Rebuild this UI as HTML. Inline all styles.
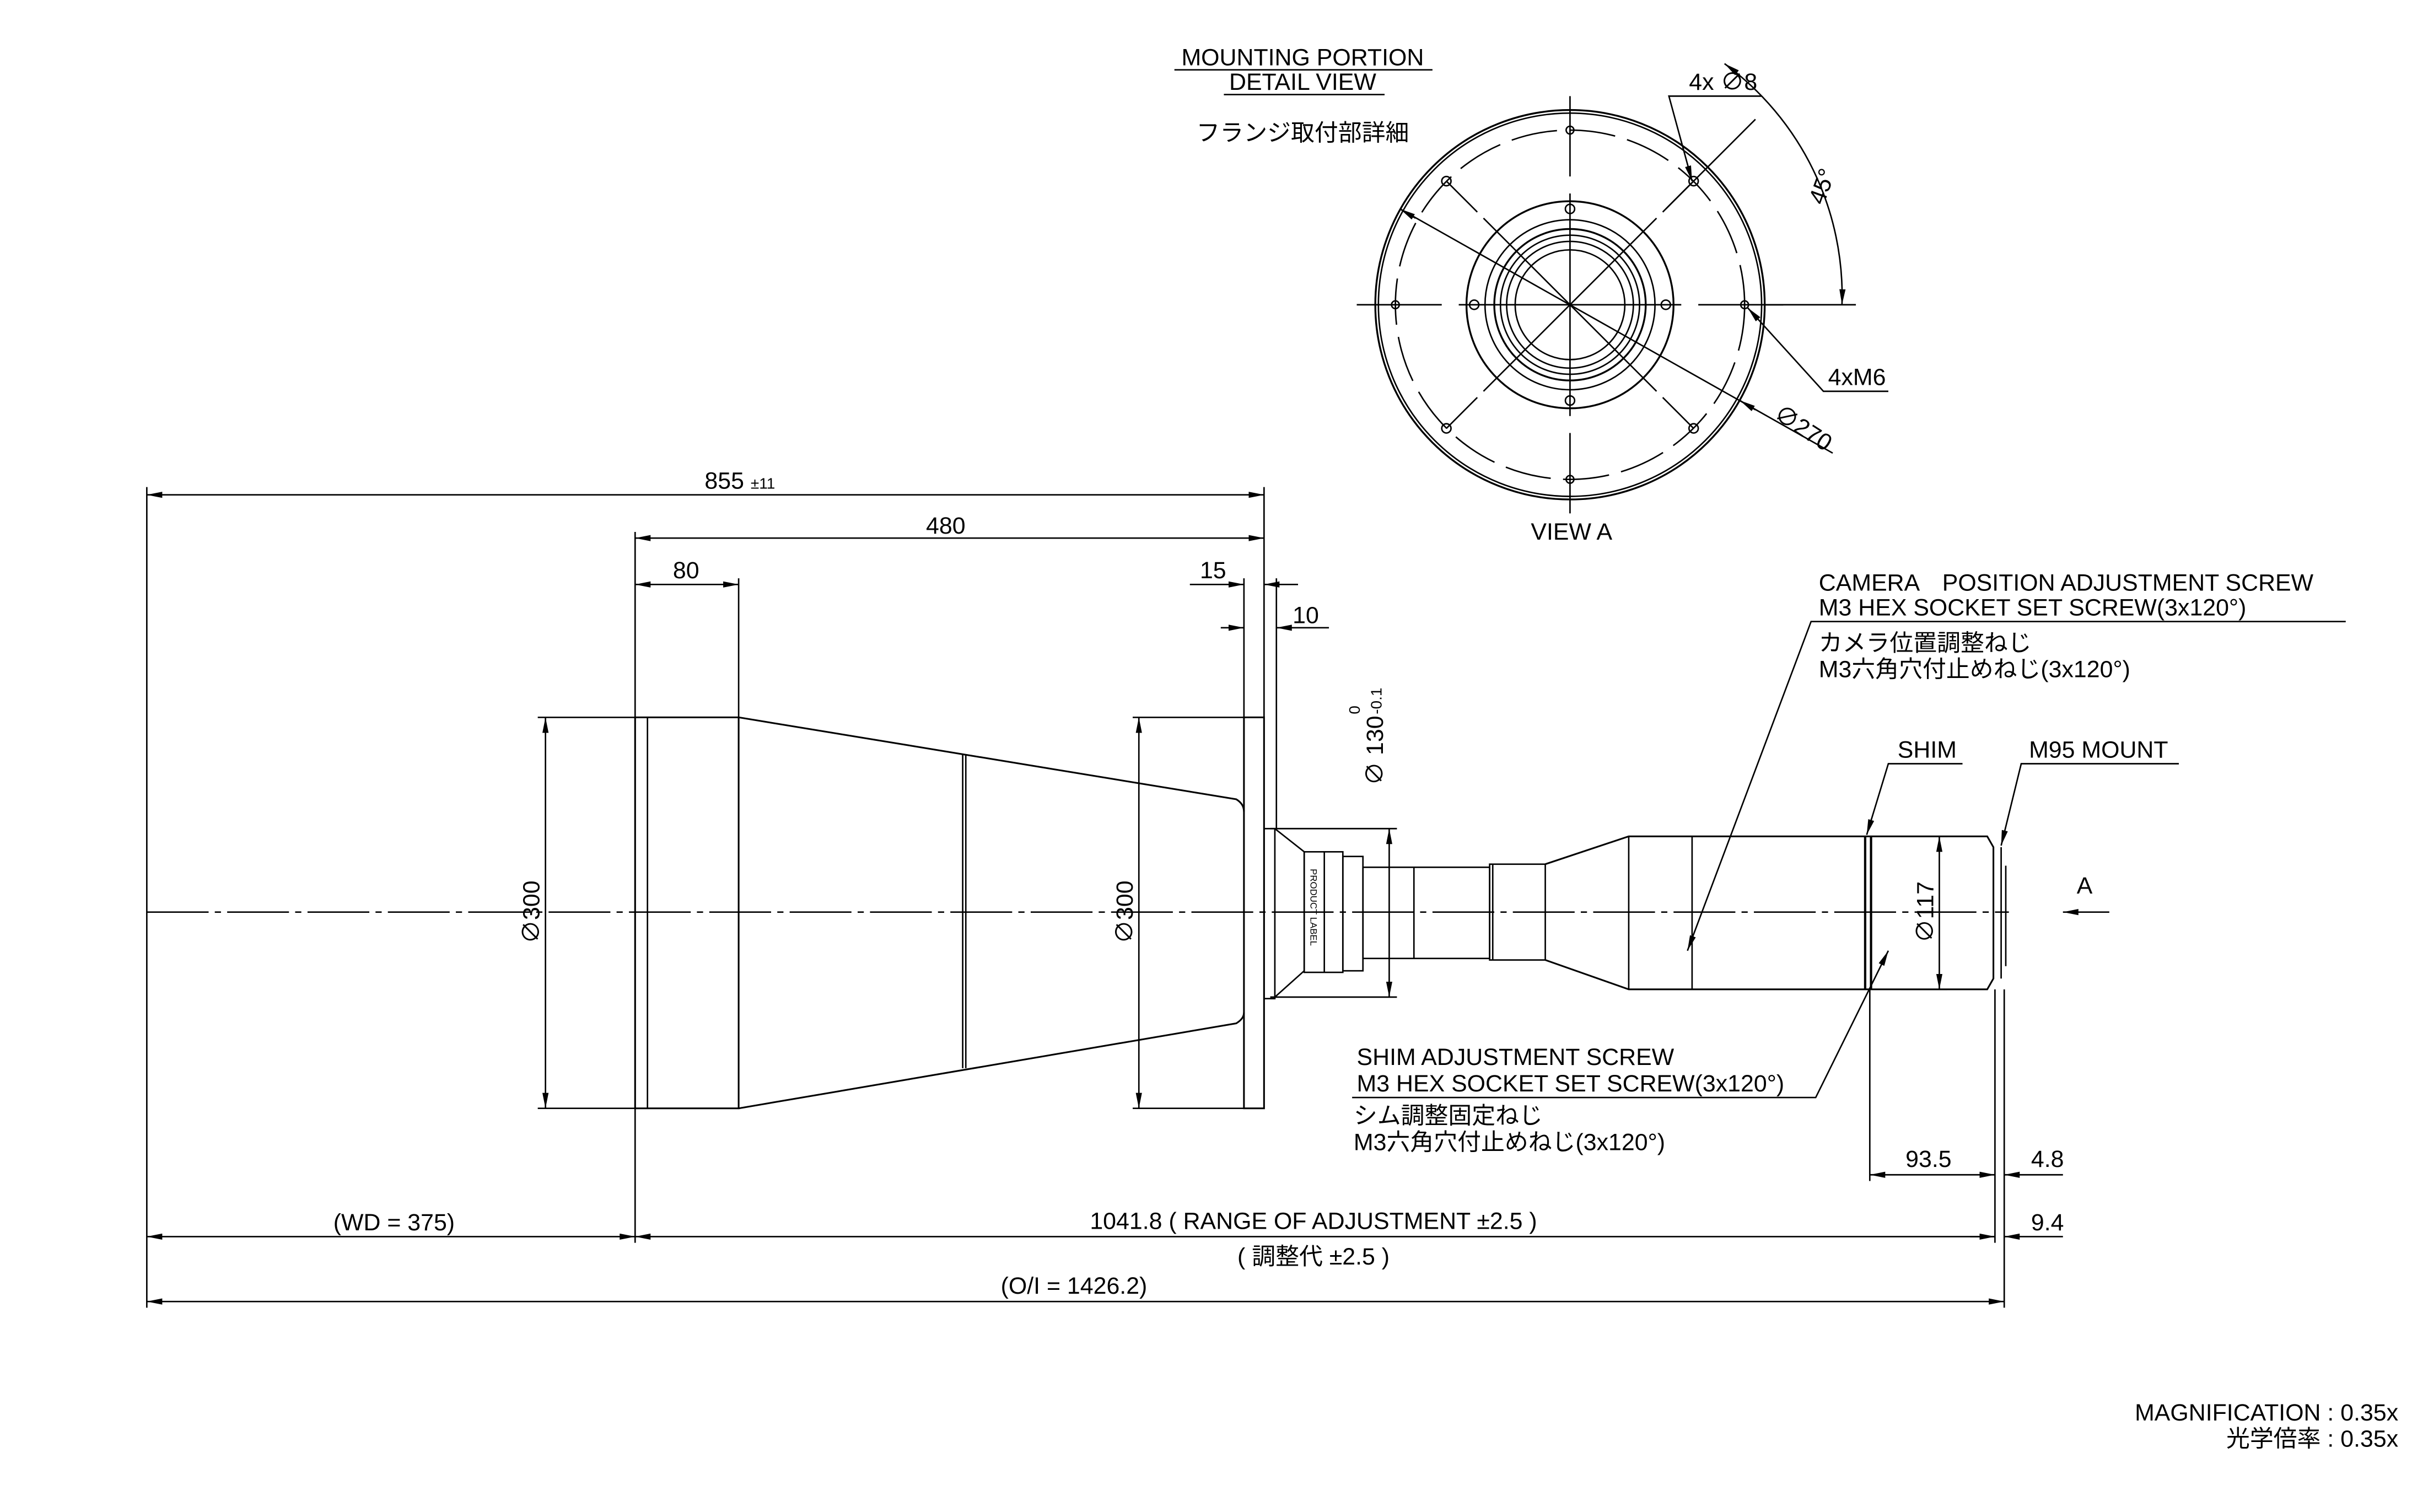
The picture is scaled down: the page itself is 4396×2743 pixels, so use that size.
<!DOCTYPE html>
<html><head><meta charset="utf-8"><style>
html,body{margin:0;padding:0;background:#fff}
svg{display:block}
text{font-family:"Liberation Sans","Noto Sans CJK JP",sans-serif;fill:#000}
</style></head><body>
<svg width="4396" height="2743" viewBox="0 0 1568 978" xmlns="http://www.w3.org/2000/svg">
<defs>
<marker id="a" viewBox="0 0 10 4" refX="10" refY="2" markerWidth="10" markerHeight="4" orient="auto-start-reverse" markerUnits="userSpaceOnUse"><path d="M0,0 L10,2 L0,4 z" fill="#000"/></marker>
</defs>
<rect width="1568" height="978" fill="#fff"/>
<g stroke="#000" fill="none" stroke-width="0.95">
<line x1="95" y1="590" x2="1300" y2="590" stroke-dasharray="40,4,4,4"/>
<rect x="411" y="464" width="67" height="253" stroke-width="1.1"/>
<line x1="419" y1="464" x2="419" y2="717"/>
<path d="M478,464 L800,517 Q805,520 805,525 M478,717 L800,662 Q805,659 805,655" stroke-width="1.1"/>
<line x1="623" y1="488" x2="623" y2="691"/><line x1="625" y1="488" x2="625" y2="691"/>
<rect x="805" y="464" width="13" height="253" stroke-width="1.1"/>
<rect x="818" y="536" width="7" height="110"/>
<path d="M825,536 L844,551 L844,628 L825,645"/>
<rect x="844" y="551" width="25" height="78"/>
<line x1="857" y1="551" x2="857" y2="629"/>
<rect x="869" y="554" width="13" height="74"/>
<rect x="882" y="561" width="82" height="59"/>
<line x1="915" y1="561" x2="915" y2="620"/>
<rect x="964" y="559" width="36" height="62"/>
<line x1="966" y1="559" x2="966" y2="621"/>
<path d="M1000,559 L1054,541 L1286,541 L1290,548 L1290,633 L1286,640 L1054,640 L1000,621" stroke-width="1.1"/>
<line x1="1054" y1="541" x2="1054" y2="640"/>
<line x1="1095" y1="541" x2="1095" y2="640"/>
<line x1="1207" y1="541" x2="1207" y2="640" stroke-width="1.5"/>
<line x1="1210.8" y1="541" x2="1210.8" y2="640" stroke-width="1.5"/>
<line x1="1295" y1="548" x2="1295" y2="633"/>
<line x1="1298" y1="560" x2="1298" y2="625"/>
<line x1="95" y1="315" x2="95" y2="846"/>
<line x1="411" y1="344" x2="411" y2="804"/>
<line x1="478" y1="374" x2="478" y2="464"/>
<line x1="818" y1="315" x2="818" y2="464"/>
<line x1="805" y1="374" x2="805" y2="464"/>
<line x1="826" y1="374" x2="826" y2="536"/>
<line x1="348" y1="464" x2="411" y2="464"/><line x1="348" y1="717" x2="411" y2="717"/>
<line x1="733" y1="464" x2="805" y2="464"/><line x1="733" y1="717" x2="805" y2="717"/>
<line x1="822" y1="536" x2="904" y2="536"/><line x1="822" y1="645" x2="904" y2="645"/>
<line x1="1291" y1="640" x2="1291" y2="804"/>
<line x1="1297" y1="640" x2="1297" y2="846"/>
<line x1="1210" y1="640" x2="1210" y2="764"/>
<line x1="1230" y1="541" x2="1260" y2="541"/><line x1="1230" y1="640" x2="1260" y2="640"/>
<line x1="95" y1="320" x2="818" y2="320" marker-start="url(#a)" marker-end="url(#a)"/>
<line x1="411" y1="348" x2="818" y2="348" marker-start="url(#a)" marker-end="url(#a)"/>
<line x1="411" y1="378" x2="478" y2="378" marker-start="url(#a)" marker-end="url(#a)"/>
<line x1="770" y1="378" x2="805" y2="378" marker-end="url(#a)"/>
<line x1="840" y1="378" x2="818" y2="378" marker-end="url(#a)"/>
<line x1="790" y1="406" x2="805" y2="406" marker-end="url(#a)"/>
<line x1="860" y1="406" x2="826" y2="406" marker-end="url(#a)"/>
<line x1="353" y1="464" x2="353" y2="717" marker-start="url(#a)" marker-end="url(#a)"/>
<line x1="737" y1="464" x2="737" y2="717" marker-start="url(#a)" marker-end="url(#a)"/>
<line x1="899" y1="536" x2="899" y2="645" marker-start="url(#a)" marker-end="url(#a)"/>
<line x1="1255" y1="541" x2="1255" y2="640" marker-start="url(#a)" marker-end="url(#a)"/>
<line x1="95" y1="800" x2="411" y2="800" marker-start="url(#a)" marker-end="url(#a)"/>
<line x1="411" y1="800" x2="1291" y2="800" marker-start="url(#a)" marker-end="url(#a)"/>
<line x1="95" y1="842" x2="1297" y2="842" marker-start="url(#a)" marker-end="url(#a)"/>
<line x1="1210" y1="760" x2="1291" y2="760" marker-start="url(#a)" marker-end="url(#a)"/>
<line x1="1335" y1="760" x2="1297" y2="760" marker-end="url(#a)"/>
<line x1="1275" y1="800" x2="1291" y2="800"/>
<line x1="1335" y1="800" x2="1297" y2="800" marker-end="url(#a)"/>
<line x1="1365" y1="590" x2="1335" y2="590" marker-end="url(#a)"/>
<polyline points="1518,402 1172,402 1092,615" marker-end="url(#a)"/>
<polyline points="1270,494 1222,494 1208,540" marker-end="url(#a)"/>
<polyline points="1410,494 1308,494 1295,547" marker-end="url(#a)"/>
<polyline points="875,710 1175,710 1222,615" marker-end="url(#a)"/>
<g transform="translate(1016,197)">
<circle r="126" stroke-width="1.2"/><circle r="124"/>
<circle r="113" stroke-dasharray="30,8"/>
<circle r="67" stroke-width="1.2"/><circle r="55"/><circle r="49" stroke-width="1.2"/><circle r="45"/><circle r="41"/><circle r="35.5"/>
<line x1="-138" y1="0" x2="-83" y2="0"/><line x1="-72" y1="0" x2="72" y2="0"/><line x1="83" y1="0" x2="138" y2="0"/>
<line x1="0" y1="-135" x2="0" y2="-83"/><line x1="0" y1="-72" x2="0" y2="72"/><line x1="0" y1="83" x2="0" y2="135"/>
<g id="sp"><line x1="0" y1="0" x2="56" y2="-56"/><line x1="60" y1="-60" x2="80" y2="-80"/><circle cx="80" cy="-80" r="3"/></g>
<use href="#sp" transform="rotate(90)"/><use href="#sp" transform="rotate(180)"/><use href="#sp" transform="rotate(270)"/>
<circle cx="-113" cy="0" r="2.5"/><circle cx="113" cy="0" r="2.5"/><circle cx="0" cy="113" r="2.5"/><circle cx="0" cy="-113" r="2.5"/>
<circle cx="-62" cy="0" r="3"/><circle cx="62" cy="0" r="3"/><circle cx="0" cy="62" r="3"/><circle cx="0" cy="-62" r="3"/>
<line x1="-110" y1="-62" x2="170" y2="96"/>
<line x1="-110" y1="-62" x2="-100" y2="-56" marker-start="url(#a)"/>
<line x1="110" y1="62" x2="120" y2="68" marker-start="url(#a)"/>
<line x1="62" y1="-62" x2="120" y2="-120"/>
<line x1="126" y1="0" x2="185" y2="0"/>
<path d="M100,-156 A186,186 0 0 1 176,0" marker-start="url(#a)" marker-end="url(#a)"/>
</g>
<polyline points="1140,62 1080,62 1095,117" marker-end="url(#a)"/>
<polyline points="1222,253 1180,253 1131,199" marker-end="url(#a)"/>
<line x1="760" y1="45" x2="927" y2="45"/><line x1="792" y1="61" x2="896" y2="61"/>
</g>
<text transform="translate(848,562) rotate(90)" font-size="6">PRODUCT LABEL</text>
<g font-size="15.3">
<text x="843" y="42" text-anchor="middle">MOUNTING PORTION</text>
<text x="843" y="58" text-anchor="middle">DETAIL VIEW</text>
<text x="843" y="91" text-anchor="middle">フランジ取付部詳細</text>
<text x="1017" y="349" text-anchor="middle">VIEW A</text>
<text x="1093" y="58">4x ∅8</text>
<text x="1183" y="249">4xM6</text>
<text transform="translate(1147,270) rotate(33)">∅270</text>
<text transform="translate(1180,133) rotate(-70)">45°</text>
<text x="456" y="316">855 <tspan font-size="10">±11</tspan></text>
<text x="612" y="345" text-anchor="middle">480</text>
<text x="444" y="374" text-anchor="middle">80</text>
<text x="785" y="374" text-anchor="middle">15</text>
<text x="845" y="403" text-anchor="middle">10</text>
<text transform="translate(349,590) rotate(-90)" text-anchor="middle">∅300</text>
<text transform="translate(733,590) rotate(-90)" text-anchor="middle">∅300</text>
<text transform="translate(895,508) rotate(-90)">∅ 130</text>
<text transform="translate(880,462) rotate(-90)" font-size="10">0</text>
<text transform="translate(894,462) rotate(-90)" font-size="10">-0.1</text>
<text transform="translate(1251,590) rotate(-90)" text-anchor="middle">∅117</text>
<text x="1349" y="578" text-anchor="middle">A</text>
<text x="1177" y="382">CAMERA　POSITION ADJUSTMENT SCREW</text>
<text x="1177" y="398">M3 HEX SOCKET SET SCREW(3x120°)</text>
<text x="1177" y="421">カメラ位置調整ねじ</text>
<text x="1177" y="438">M3六角穴付止めねじ(3x120°)</text>
<text x="1228" y="490">SHIM</text>
<text x="1313" y="490">M95 MOUNT</text>
<text x="878" y="689">SHIM ADJUSTMENT SCREW</text>
<text x="878" y="706">M3 HEX SOCKET SET SCREW(3x120°)</text>
<text x="876" y="727">シム調整固定ねじ</text>
<text x="876" y="744">M3六角穴付止めねじ(3x120°)</text>
<text x="1248" y="755" text-anchor="middle">93.5</text>
<text x="1325" y="755" text-anchor="middle">4.8</text>
<text x="1325" y="796" text-anchor="middle">9.4</text>
<text x="255" y="796" text-anchor="middle">(WD = 375)</text>
<text x="850" y="795" text-anchor="middle">1041.8 ( RANGE OF ADJUSTMENT ±2.5 )</text>
<text x="850" y="818" text-anchor="middle">( 調整代 ±2.5 )</text>
<text x="695" y="837" text-anchor="middle">(O/I = 1426.2)</text>
<text x="1552" y="919" text-anchor="end">MAGNIFICATION : 0.35x</text>
<text x="1552" y="936" text-anchor="end">光学倍率 : 0.35x</text>
</g>
</svg>
</body></html>
